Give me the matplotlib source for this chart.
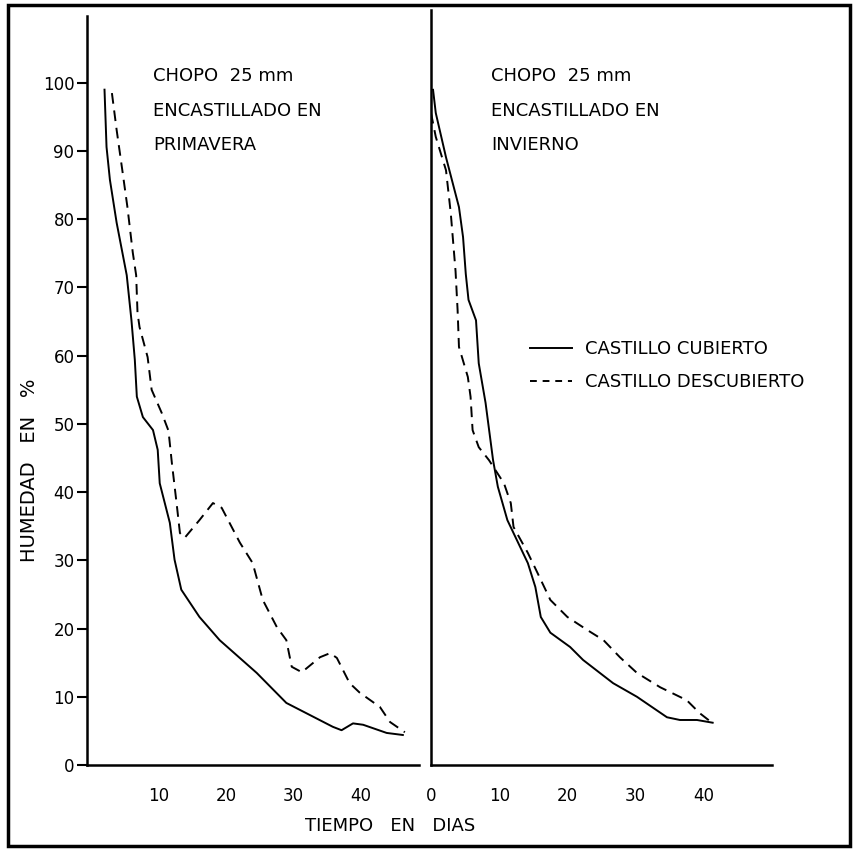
import matplotlib
matplotlib.use("Agg")
import matplotlib.pyplot as plt
from matplotlib.lines import Line2D
from matplotlib.patches import Rectangle

# ---------------- data ----------------
# Left panel: encastillado en primavera
prim_cub_x = [1.9, 2.2, 2.7, 3.7, 5.2, 5.9, 6.4, 6.7, 7.6, 9.1, 9.8, 10.1, 11.6, 12.3,
              13.3, 16.0, 19.0, 24.5, 28.9, 35.8, 37.1, 38.8, 40.3, 43.8, 46.2]
prim_cub_y = [99.0, 90.6, 85.8, 79.5, 71.8, 65.2, 59.4, 54.0, 51.0, 49.1, 46.2, 41.3,
              35.5, 30.1, 25.7, 21.7, 18.3, 13.5, 9.1, 5.6, 5.1, 6.1, 5.9, 4.7, 4.4]
prim_desc_x = [3.0, 3.7, 4.6, 5.3, 6.1, 6.6, 6.8, 7.1, 8.3, 8.9, 10.4, 11.4, 11.9, 12.6,
               13.1, 13.8, 16.0, 18.0, 19.3, 22.0, 23.9, 25.4, 27.5, 28.9, 29.7, 31.2,
               33.9, 35.4, 36.4, 38.3, 39.8, 42.8, 44.3, 46.5]
prim_desc_y = [98.5, 93.1, 86.8, 81.8, 75.1, 71.8, 66.3, 64.2, 59.8, 55.0, 51.6, 49.0,
               44.3, 38.4, 34.0, 33.3, 35.9, 38.4, 37.7, 32.6, 29.6, 24.2, 20.2, 18.3,
               14.4, 13.6, 15.8, 16.4, 15.7, 12.0, 10.6, 8.5, 6.3, 4.8]

# Right panel: encastillado en invierno
inv_cub_x = [0.3, 0.7, 2.2, 4.1, 4.7, 5.1, 5.5, 6.6, 7.0, 8.0, 9.1, 9.8, 11.2, 14.2, 15.3,
             16.1, 17.5, 20.4, 22.3, 26.7, 30.2, 34.6, 36.5, 39.0, 41.3]
inv_cub_y = [99.0, 95.6, 89.1, 81.8, 77.4, 72.0, 68.2, 65.2, 58.9, 53.1, 44.7, 40.8, 35.9,
             29.6, 26.1, 21.7, 19.4, 17.3, 15.4, 12.0, 10.0, 7.0, 6.6, 6.6, 6.2]
inv_desc_x = [0.0, 0.7, 2.2, 2.9, 3.6, 3.9, 4.1, 5.4, 5.8, 6.1, 7.0, 8.5, 10.7, 11.7, 12.1,
              14.2, 15.6, 17.5, 20.0, 22.9, 25.3, 27.7, 30.2, 33.6, 37.5, 39.4, 41.2]
inv_desc_y = [95.6, 92.1, 87.2, 80.9, 72.4, 66.7, 61.3, 56.9, 54.0, 49.1, 46.6, 44.7, 41.3,
              38.4, 34.9, 31.1, 28.2, 24.2, 21.7, 19.8, 18.3, 15.8, 13.5, 11.4, 9.5, 7.6, 6.2]

left_xticks = [10, 20, 30, 40]
right_xticks = [0, 10, 20, 30, 40]
yticks = [0, 10, 20, 30, 40, 50, 60, 70, 80, 90, 100]

left_title = ["CHOPO  25 mm", "ENCASTILLADO EN", "PRIMAVERA"]
right_title = ["CHOPO  25 mm", "ENCASTILLADO EN", "INVIERNO"]
legend_labels = ["CASTILLO CUBIERTO", "CASTILLO DESCUBIERTO"]

# ---------------- figure ----------------
plt.rcParams['font.family'] = ['DejaVu Sans']
W, H = 857, 851
fig = plt.figure(figsize=(W / 100, H / 100), dpi=100)

def fx(px):
    return px / W

def fy(py):
    return 1 - py / H

axL = fig.add_axes([fx(87), fy(765), fx(419) - fx(87), fy(16) - fy(765)])
axR = fig.add_axes([fx(431), fy(765), fx(772) - fx(431), fy(10) - fy(765)])

lw = 1.4
dash = (0, (5.5, 3.5))
axL.plot(prim_cub_x, prim_cub_y, color='black', lw=lw)
axL.plot(prim_desc_x, prim_desc_y, color='black', lw=lw, linestyle=dash)
axR.plot(inv_cub_x, inv_cub_y, color='black', lw=lw)
axR.plot(inv_desc_x, inv_desc_y, color='black', lw=lw, linestyle=dash)

axL.set_xlim(-0.7, 48.6)
axL.set_ylim(0, 109.8)
axR.set_xlim(0.1, 50.0)
axR.set_ylim(0, 110.7)

for ax in (axL, axR):
    for s in ('top', 'right'):
        ax.spines[s].set_visible(False)
    for s in ('left', 'bottom'):
        ax.spines[s].set_linewidth(1.8)
    ax.tick_params(axis='x', length=0, pad=16, labelsize=12)
    ax.set_facecolor('none')

axL.set_xticks(left_xticks)
axR.set_xticks(right_xticks)
axL.set_yticks(yticks)
axL.tick_params(axis='y', length=7, width=1.5, pad=2, labelsize=12)
axR.set_yticks([])

fig.text(fx(30), fy(470), "HUMEDAD   EN   %", fontsize=14, rotation=90,
         ha='center', va='center')
fig.text(fx(390), fy(826), "TIEMPO   EN   DIAS", fontsize=13, ha='center', va='center')

for i, t in enumerate(left_title):
    fig.text(fx(153), fy(76 + 34.5 * i), t, fontsize=13, ha='left', va='center')
for i, t in enumerate(right_title):
    fig.text(fx(491), fy(76 + 34.5 * i), t, fontsize=13, ha='left', va='center')

handles = [Line2D([], [], color='black', lw=lw),
           Line2D([], [], color='black', lw=lw, linestyle=(0, (3.5, 3)))]
fig.legend(handles, legend_labels, loc='upper left',
           bbox_to_anchor=(fx(530), fy(340)), frameon=False, fontsize=13,
           handlelength=2.3, handletextpad=0.75, labelspacing=0.85,
           borderpad=0, borderaxespad=0)

fig.add_artist(Rectangle((fx(8), fy(846)), fx(850) - fx(8), fy(5) - fy(846),
                         transform=fig.transFigure, fill=False, lw=2.5,
                         edgecolor='black'))

fig.savefig("out.png", dpi=100)
